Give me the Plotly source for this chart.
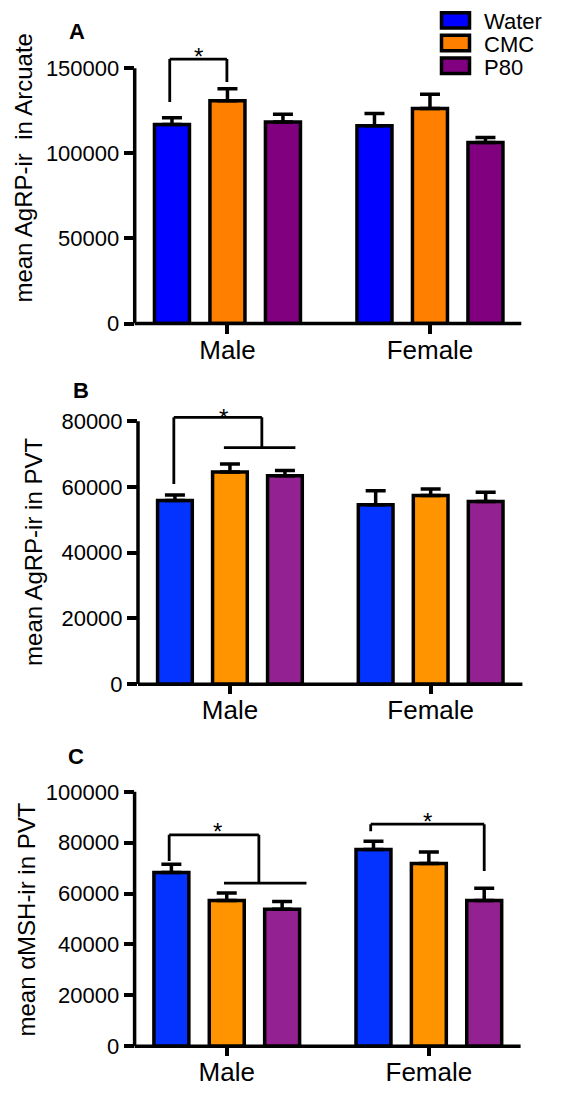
import plotly.graph_objects as go

W, H = 566, 1093
FONT = "Liberation Sans, Arial, Helvetica, sans-serif"

# ---------------- data ----------------
groups = ["Male", "Female"]
series = ["Water", "CMC", "P80"]

# Panel A: mean AgRP-ir in Arcuate  (rows = series, cols = groups)
a_mean = [[117000, 116300], [131000, 126400], [118500, 106400]]
a_sem = [[4000, 7200], [7000, 8300], [4500, 2900]]
a_ticks = [0, 50000, 100000, 150000]

# Panel B: mean AgRP-ir in PVT
b_mean = [[55900, 54600], [64600, 57400], [63400, 55600]]
b_sem = [[1700, 4300], [2400, 2000], [1600, 2800]]
b_ticks = [0, 20000, 40000, 60000, 80000]

# Panel C: mean aMSH-ir in PVT
c_mean = [[68300, 77300], [57300, 71800], [53800, 57300]]
c_sem = [[3200, 3300], [2950, 4500], [3100, 4800]]
c_ticks = [0, 20000, 40000, 60000, 80000, 100000]

colors_a = ["#0000FF", "#FF8000", "#800080"]
colors_bc = ["#0433FF", "#FF9300", "#942192"]

# significance brackets: (group, left bar, left bottom, top, right bar, right bottom,
#                         star bar, star value, optional horizontal line (from bar, to bar))
a_brackets = [(0, -0.04, 130200, 155400, 0.99, 141900, 0.47, 160400, None)]
b_brackets = [(0, -0.02, 60900, 81200, 1.58, 72000, 0.89, 83100, (0.89, 2.19))]
c_brackets = [(0, -0.04, 72800, 83100, 1.58, 64100, 0.83, 86900, (0.95, 2.44)),
              (1, -0.05, 84500, 87300, 2.0, 68900, 0.98, 90800, None)]

# ---------------- layout geometry (pixels) ----------------
BARGAP = 0.178
BARGROUPGAP = 0.369
SLOT = (1 - BARGAP) / len(series)


def px_x(p):
    return p / W


def px_y(p):
    return 1 - p / H


panels = [
    dict(label="A", means=a_mean, sems=a_sem, colors=colors_a, ticks=a_ticks,
         brackets=a_brackets, title="mean AgRP-ir  in Arcuate",
         xdom=(126.7, 513.3), xr=(-0.458, 1.451), ydom=(319.3, 35.2), yr=(0, 165000),
         title_pos=(16, 162.5), label_pos=(68.6, 23.5)),
    dict(label="B", means=b_mean, sems=b_sem, colors=colors_bc, ticks=b_ticks,
         brackets=b_brackets, title="mean AgRP-ir in PVT",
         xdom=(130.0, 514.4), xr=(-0.458, 1.457), ydom=(684.3, 400.0), yr=(0, 85500),
         title_pos=(26, 550.5), label_pos=(73.4, 387)),
    dict(label="C", means=c_mean, sems=c_sem, colors=colors_bc, ticks=c_ticks,
         brackets=c_brackets, title="mean \u03b1MSH-ir in PVT",
         xdom=(126.6, 512.6), xr=(-0.456, 1.454), ydom=(1050.7, 780.4), yr=(0, 105000),
         title_pos=(19, 922.5), label_pos=(67.7, 757.8)),
]

fig = go.Figure()
shapes = []
annotations = []
xs = list(range(len(groups)))


def bar_pos(g, b):
    return g + (b - (len(series) - 1) / 2) * SLOT


for i, p in enumerate(panels):
    sfx = "" if i == 0 else str(i + 1)
    xa, ya = "x" + sfx, "y" + sfx
    for k, name in enumerate(series):
        fig.add_trace(go.Bar(
            x=xs, y=p["means"][k], name=name, xaxis=xa, yaxis=ya, showlegend=False,
            marker=dict(color=p["colors"][k], line=dict(color="black", width=3.5)),
            error_y=dict(type="data", symmetric=False, array=p["sems"][k],
                         arrayminus=[0] * len(groups), color="black",
                         thickness=3.5, width=10),
        ))
    axis_common = dict(showgrid=False, zeroline=False, showline=False,
                       ticks="outside", tickcolor="black", tickwidth=3.5)
    fig.update_layout(**{
        "xaxis" + sfx: dict(axis_common, type="linear", anchor=ya,
                            domain=[px_x(p["xdom"][0]), px_x(p["xdom"][1])],
                            range=list(p["xr"]), tickvals=xs, ticktext=groups,
                            ticklen=9, ticklabelstandoff=-6,
                            tickfont=dict(size=26, color="black", family=FONT)),
        "yaxis" + sfx: dict(axis_common, anchor=xa,
                            domain=[px_y(p["ydom"][0]), px_y(p["ydom"][1])],
                            range=list(p["yr"]), tickvals=p["ticks"],
                            ticktext=[str(v) for v in p["ticks"]],
                            ticklen=10, tickfont=dict(size=22, color="black", family=FONT)),
    })
    # axis lines
    shapes.append(dict(type="line", xref=xa + " domain", yref=ya, x0=0, x1=0,
                       y0=0, y1=max(p["ticks"]), line=dict(color="black", width=3.5)))
    shapes.append(dict(type="line", xref=xa + " domain", yref=ya + " domain", x0=0, x1=1,
                       y0=0, y1=0, line=dict(color="black", width=3.5)))
    # brackets
    for (g, lb, lbot, top, rb, rbot, sb, sv, hl) in p["brackets"]:
        xl, xr_ = bar_pos(g, lb), bar_pos(g, rb)
        segs = [(xl, lbot, xl, top), (xl, top, xr_, top), (xr_, top, xr_, rbot)]
        if hl is not None:
            segs.append((bar_pos(g, hl[0]), rbot, bar_pos(g, hl[1]), rbot))
        for (x0, y0, x1, y1) in segs:
            shapes.append(dict(type="line", xref=xa, yref=ya, x0=x0, y0=y0, x1=x1, y1=y1,
                               line=dict(color="black", width=2.8)))
        annotations.append(dict(text="*", xref=xa, yref=ya, x=bar_pos(g, sb), y=sv,
                                yshift=-6, showarrow=False,
                                font=dict(size=24, color="black", family=FONT)))
    # y-axis title
    annotations.append(dict(text=p["title"], xref="paper", yref="paper",
                            x=px_x(p["title_pos"][0]), y=px_y(p["title_pos"][1]),
                            textangle=-90, showarrow=False, xanchor="center", yanchor="middle",
                            font=dict(size=24, color="black", family=FONT)))
    # panel letter
    annotations.append(dict(text="<b>%s</b>" % p["label"], xref="paper", yref="paper",
                            x=px_x(p["label_pos"][0]), y=px_y(p["label_pos"][1]),
                            showarrow=False, xanchor="center", yanchor="middle",
                            font=dict(size=22, color="black", family=FONT)))

# legend (drawn manually to match the boxed swatches)
leg_centers = [12.5, 35.5, 58.5]
for k, name in enumerate(series):
    c = leg_centers[k]
    shapes.append(dict(type="rect", xref="paper", yref="paper",
                       x0=px_x(433.5), x1=px_x(461.5), y0=px_y(c + 7.8), y1=px_y(c - 7.8),
                       fillcolor=colors_a[k], line=dict(color="black", width=3.5)))
    annotations.append(dict(text=name, xref="paper", yref="paper", x=px_x(474),
                            y=px_y(c + 1.5), xanchor="left", yanchor="middle", showarrow=False,
                            font=dict(size=22, color="black", family=FONT)))

fig.update_layout(
    width=W, height=H, autosize=False,
    margin=dict(l=0, r=0, t=0, b=0),
    paper_bgcolor="white", plot_bgcolor="white",
    barmode="group", bargap=BARGAP, bargroupgap=BARGROUPGAP,
    shapes=shapes, annotations=annotations,
    font=dict(family=FONT, color="black"),
)

fig.write_html("out.html")
